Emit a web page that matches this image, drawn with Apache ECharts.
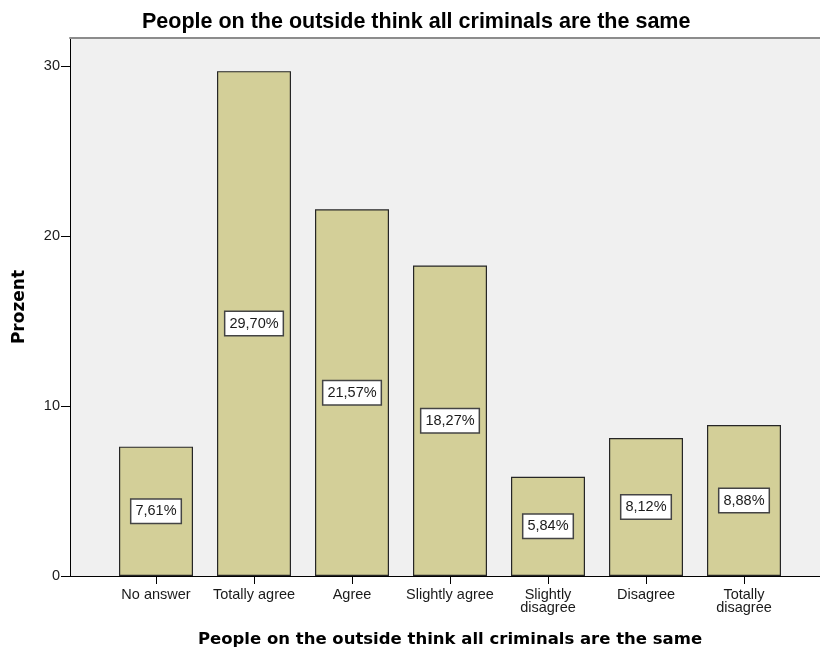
<!DOCTYPE html>
<html>
<head>
<meta charset="utf-8">
<script src="https://cdn.jsdelivr.net/npm/echarts@6/dist/echarts.min.js"></script>
<style>html,body{margin:0;padding:0;background:#fff;}#c{width:820px;height:655px;}</style>
</head>
<body>
<div id="c"></div>
<script>
const titleText = 'People on the outside think all criminals are the same';
const categories = ['No answer', 'Totally agree', 'Agree', 'Slightly agree', 'Slightly\ndisagree', 'Disagree', 'Totally\ndisagree'];
const percents = [7.61, 29.70, 21.57, 18.27, 5.84, 8.12, 8.88];
const yTicks = [0, 10, 20, 30];
const yMax = 31.65;

const chart = echarts.init(document.getElementById('c'), null, {renderer: 'canvas'});
const fmt = v => v.toFixed(2).replace('.', ',') + '%';
chart.setOption({
  animation: false,
  backgroundColor: '#ffffff',
  title: {
    text: titleText, left: 137, top: 6,
    textStyle: {fontFamily: 'Liberation Sans, Arial', fontWeight: 'bold', fontSize: 21.5, color: '#000'}
  },
  grid: [
    {left: 70, right: 0, top: 38, bottom: 79, show: true, backgroundColor: '#f0f0f0', borderWidth: 0},
    {left: 107, right: 27, top: 38, bottom: 79}
  ],
  xAxis: [
    {gridIndex: 0, type: 'value', min: 0, max: 1, position: 'bottom',
     axisLine: {show: true, lineStyle: {color: '#000', width: 1}}, axisTick: {show: false}, axisLabel: {show: false}, splitLine: {show: false}},
    {gridIndex: 0, type: 'value', min: 0, max: 1, position: 'top',
     axisLine: {show: true, lineStyle: {color: '#8c8c8c', width: 2}}, axisTick: {show: false}, axisLabel: {show: false}, splitLine: {show: false}},
    {gridIndex: 1, type: 'category', data: categories, position: 'bottom',
     axisLine: {show: false},
     axisTick: {show: true, alignWithLabel: true, length: 8, lineStyle: {color: '#000'}},
     axisLabel: {margin: 12, fontSize: 14.5, lineHeight: 13, color: '#1a1a1a', fontFamily: 'Liberation Sans, Arial', interval: 0},
     name: titleText, nameLocation: 'middle', nameGap: 55,
     nameTextStyle: {fontFamily: 'DejaVu Sans', fontWeight: 'bold', fontSize: 16.5, color: '#000'}}
  ],
  yAxis: [
    {gridIndex: 0, type: 'value', min: 0, max: yMax, interval: 10,
     axisLine: {show: true, lineStyle: {color: '#000', width: 1}},
     axisTick: {show: true, length: 9, lineStyle: {color: '#000'}, customValues: yTicks},
     axisLabel: {margin: 10, fontSize: 14.5, color: '#1a1a1a', fontFamily: 'Liberation Sans, Arial', customValues: yTicks},
     splitLine: {show: false},
     name: 'Prozent', nameLocation: 'middle', nameRotate: 90, nameGap: 42,
     nameTextStyle: {fontFamily: 'DejaVu Sans', fontWeight: 'bold', fontSize: 17, color: '#000'}},
    {gridIndex: 1, type: 'value', min: 0, max: yMax, show: false, splitLine: {show: false}}
  ],
  series: [{
    type: 'bar', xAxisIndex: 2, yAxisIndex: 1, data: percents, barWidth: 74,
    itemStyle: {color: '#d3cf98', borderColor: '#262626', borderWidth: 1.2},
    label: {show: true, position: 'inside', formatter: p => fmt(p.value),
      fontFamily: 'Liberation Sans, Arial', fontSize: 14.5, lineHeight: 16, color: '#1a1a1a',
      backgroundColor: '#ffffff', borderColor: '#444', borderWidth: 1.5, padding: [4, 4, 3, 4]}
  }]
});
</script>
</body>
</html>
